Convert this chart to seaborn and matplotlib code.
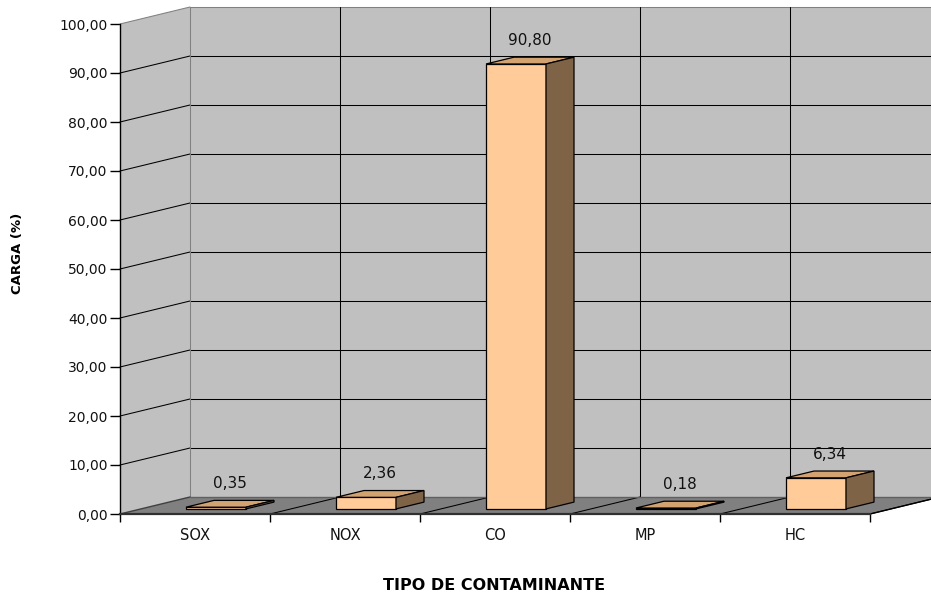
import numpy as np
import pandas as pd
import matplotlib
matplotlib.use("Agg")
import matplotlib.pyplot as plt
import seaborn as sns
from matplotlib.patches import Polygon, Rectangle
from matplotlib.lines import Line2D
from matplotlib.transforms import IdentityTransform, offset_copy

# ---- data ----
categories = ["SOX", "NOX", "CO", "MP", "HC"]
values = [0.35, 2.36, 90.80, 0.18, 6.34]
y_ticks = [0, 10, 20, 30, 40, 50, 60, 70, 80, 90, 100]
x_title = "TIPO DE CONTAMINANTE"
y_title = "CARGA (%)"

def fmt(v):
    return f"{v:.2f}".replace(".", ",")

# ---- style ----
sns.set_theme(style="white")
plt.rcParams["font.family"] = ["DejaVu Sans"]

W, H = 931, 594
fig = plt.figure(figsize=(W / 100, H / 100), dpi=100)
fig.patch.set_facecolor("white")
ax = fig.add_axes([120 / W, 80 / H, 750 / W, 490 / H])
ax.set_facecolor("none")

DX, DY = 70, 17          # depth of the 3D box in pixels
D0, D1 = 0.3, 0.7        # bar depth span (fraction of box depth)

FRONT = "#FFCC99"
TOP = "#D2A271"
SIDE = "#7F6347"
WALL = "#C0C0C0"
FLOOR = "#808080"

df = pd.DataFrame({"cat": categories, "val": values})
sns.barplot(data=df, x="cat", y="val", ax=ax, color=FRONT, saturation=1,
            width=0.4, edgecolor="black", linewidth=0.9, zorder=6)
ax.set_xlim(-0.5, 4.5)
ax.set_ylim(0, 100)
fig.canvas.draw()

def P(x, y, d=0.0):
    px, py = ax.transData.transform((x, y))
    return (px + DX * d, py + DY * d)

def poly(pts, fc, ec="none", lw=0.0, z=1):
    p = Polygon(pts, closed=True, facecolor=fc, edgecolor=ec, linewidth=lw,
                transform=IdentityTransform(), clip_on=False, zorder=z)
    ax.add_patch(p)

def line(p1, p2, c="black", lw=0.75, z=2):
    l = Line2D([p1[0], p2[0]], [p1[1], p2[1]], color=c, linewidth=lw,
               transform=IdentityTransform(), clip_on=False, zorder=z)
    ax.add_line(l)

bars = [p for p in ax.patches if isinstance(p, Rectangle)]

x0, x1 = -0.5, 4.5
# back wall
poly([P(x0, 0, 1), P(x1, 0, 1), P(x1, 100, 1), P(x0, 100, 1)], WALL, z=0.5)
# left wall
poly([P(x0, 0, 0), P(x0, 0, 1), P(x0, 100, 1), P(x0, 100, 0)], WALL, z=0.5)
# floor
poly([P(x0, 0, 0), P(x1, 0, 0), P(x1, 0, 1), P(x0, 0, 1)], FLOOR, z=0.6)

# gridlines
for v in y_ticks[1:-1]:
    line(P(x0, v, 0), P(x0, v, 1))
    line(P(x0, v, 1), P(x1, v, 1))
line(P(x0, 100, 0), P(x0, 100, 1), c="#808080")
line(P(x0, 100, 1), P(x1, 100, 1), c="#808080")
line(P(x0, 0, 1), P(x0, 100, 1), c="#808080")
for b in np.arange(0.5, 4.6, 1.0):
    line(P(b, 0, 1), P(b, 100, 1))
    line(P(b, 0, 0), P(b, 0, 1))
line(P(x0, 0, 0), P(x0, 0, 1), c="#404040", lw=1.0)
line(P(x1, 0, 0), P(x1, 0, 1), c="black", lw=1.0)
line(P(x0, 0, 1), P(x1, 0, 1), c="#606060", lw=1.0)

# bars: shift front faces to depth D0, add top and side faces
off = offset_copy(ax.transData, fig=fig, x=DX * D0, y=DY * D0, units="dots")
for patch in bars:
    bx, bw, bh = patch.get_x(), patch.get_width(), patch.get_height()
    patch.set_transform(off)
    poly([P(bx, bh, D0), P(bx + bw, bh, D0), P(bx + bw, bh, D1), P(bx, bh, D1)],
         TOP, ec="black", lw=0.9, z=6)
    poly([P(bx + bw, 0, D0), P(bx + bw, 0, D1), P(bx + bw, bh, D1), P(bx + bw, bh, D0)],
         SIDE, ec="black", lw=0.9, z=6)

# value labels
for i, v in enumerate(values):
    ax.annotate(fmt(v), xy=(i, v), xytext=(DX * 0.5, DY * 0.5 + 20),
                textcoords="offset pixels", ha="center", va="center",
                fontsize=11, color="#111111", zorder=8)

# axes, ticks
for s in ["top", "right"]:
    ax.spines[s].set_visible(False)
ax.spines["left"].set_color("black")
ax.spines["left"].set_linewidth(1.0)
ax.spines["bottom"].set_color("#303030")
ax.spines["bottom"].set_linewidth(1.6)
ax.spines["left"].set_zorder(7)
ax.spines["bottom"].set_zorder(7)

ax.set_yticks(y_ticks)
ax.set_yticklabels([fmt(v) for v in y_ticks])
ax.tick_params(axis="y", which="major", left=True, length=7, width=1,
               color="black", labelsize=10, pad=2, labelcolor="#111111")
ax.set_xticks(range(len(categories)))
ax.set_xticklabels(categories)
ax.set_xticks(np.arange(-0.5, 4.6, 1.0), minor=True)
ax.tick_params(axis="x", which="major", bottom=True, length=0, pad=10,
               labelsize=10.5, labelcolor="#111111")
ax.tick_params(axis="x", which="minor", bottom=True, length=6, width=1,
               color="black")
ax.grid(False)

ax.set_xlabel(x_title, fontsize=11.5, fontweight="bold", va="center", color="black")
ax.xaxis.set_label_coords(0.4993, -0.145)
ax.set_ylabel(y_title, fontsize=9.5, fontweight="bold", va="center", color="black")
ax.yaxis.set_label_coords(-0.137, 0.532)

fig.savefig("out.png", dpi=100)
